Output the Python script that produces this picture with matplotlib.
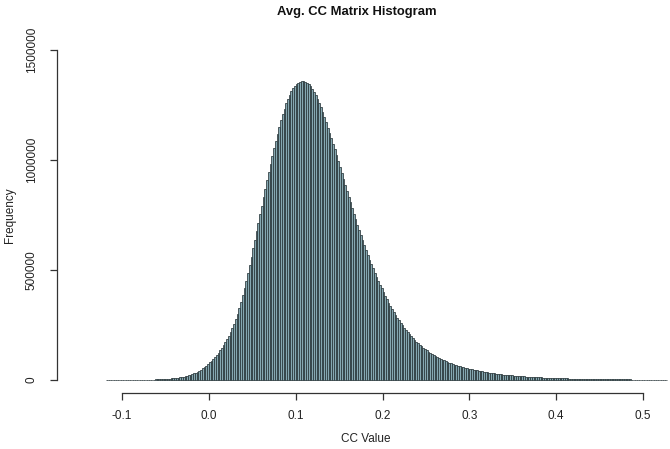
import numpy as np
import matplotlib
matplotlib.use("Agg")
import matplotlib.pyplot as plt

plt.rcParams['font.family'] = ['Liberation Sans', 'DejaVu Sans']

# ===== data: counts (in thousands) per bin of width 0.002, first bin starts at -0.118 =====
bin_start = -0.118
bin_width = 0.002
counts_k = [
    0.14, 0.15, 0.16, 0.17, 0.19, 0.21, 0.23, 0.26, 0.29, 0.31,
    0.34, 0.38, 0.42, 0.47, 0.52, 0.58, 0.65, 0.72, 0.80, 0.9,
    1.0, 1.1, 1.2, 1.4, 1.6, 1.8, 2.0, 2.2, 2.5, 2.8,
    3.2, 3.6, 4.0, 4.5, 5.0, 5.7, 6.4, 7.1, 8.0, 8.9,
    10.0, 11.2, 12.5, 14.0, 15.7, 17.5, 19.5, 21.8, 24.3, 27.2,
    30.5, 34.0, 38.0, 42.5, 47.5, 53, 59, 65.5, 72.5, 80,
    88, 96.5, 105.5, 115, 125, 136, 147.5, 160, 173, 187,
    202, 218, 236, 256, 278, 302, 328, 356, 386, 418,
    452, 488, 524, 561, 599, 637, 676, 715, 754, 793,
    832, 870, 908, 945, 982, 1018, 1053, 1087, 1119, 1150,
    1180, 1208, 1234, 1257, 1278, 1297, 1313, 1326, 1337, 1345,
    1351, 1355, 1357, 1357, 1355, 1351, 1344, 1335, 1324, 1311,
    1296, 1279, 1260, 1240, 1218, 1195, 1171, 1146, 1122, 1098,
    1075, 1049, 1022, 995, 968, 941, 914, 887, 860, 834,
    808, 782, 756, 731, 706, 682, 658, 635, 612, 590,
    568, 547, 527, 507, 488, 469, 451, 433, 416, 399,
    383, 367, 352, 337, 323, 309, 296, 283, 271, 259,
    248, 237, 227, 217, 208, 199, 190, 182, 174, 167,
    160, 153, 147, 141, 135, 129, 124, 119, 114, 109,
    105, 101, 97, 93, 89, 86, 82, 79, 76, 73,
    70, 67.5, 65, 62.5, 60, 58, 56, 54, 52, 50,
    48, 46.5, 45, 43.5, 42, 40.5, 39, 37.5, 36, 34.8,
    33.6, 32.4, 31.2, 30, 29, 28, 27, 26, 25, 24.1,
    23.3, 22.5, 21.7, 20.9, 20.2, 19.5, 18.8, 18.1, 17.5, 16.9,
    16.3, 15.7, 15.1, 14.6, 14.1, 13.6, 13.1, 12.7, 12.3, 11.9,
    11.5, 11.1, 10.7, 10.3, 10.0, 9.7, 9.4, 9.1, 8.8, 8.5,
    8.2, 7.9, 7.7, 7.4, 7.2, 7.0, 6.8, 6.6, 6.4, 6.2,
    6.0, 5.8, 5.6, 5.4, 5.2, 5.0, 4.9, 4.7, 4.6, 4.4,
    4.3, 4.2, 4.0, 3.9, 3.8, 3.7, 3.6, 3.5, 3.4, 3.3,
    3.2, 3.1, 3.0, 2.9, 2.8, 2.7, 2.6, 2.6, 2.5, 2.4,
    2.3, 2.3, 2.2, 2.1, 2.1, 2.0, 1.9, 1.9, 1.8, 1.8,
    1.7, 1.7, 1.6, 1.6, 1.5, 1.5, 1.4, 1.4, 1.3, 1.3,
    1.2, 1.2, 1.1,
]
x_ticks = [-0.1, 0.0, 0.1, 0.2, 0.3, 0.4, 0.5]
y_ticks = [0, 500000, 1000000, 1500000]

counts = np.array(counts_k) * 1000
lefts = bin_start + bin_width * np.arange(len(counts))

W, H = 670, 449
fig = plt.figure(figsize=(W / 100, H / 100), dpi=100)
# axes box in pixels: left 57, right 670, bottom 393, top 37
ax = fig.add_axes([57 / W, 1 - 393 / H, (670 - 57) / W, (393 - 37) / H])

ax.bar(lefts, counts, width=bin_width, align='edge',
       color='#86a8b1', edgecolor='#2a373b', linewidth=0.55)

# pixel mapping: -0.1 -> 122px, 0.5 -> 643px; 0 -> y380, 1.5M -> y50
px_per_unit = (643 - 122) / 0.6
ax.set_xlim(-0.1 - (122 - 57) / px_per_unit, -0.1 + (670 - 122) / px_per_unit)
cnt_per_px = 1500000 / (380 - 50)
ax.set_ylim(-(393 - 380) * cnt_per_px, (380 - 37) * cnt_per_px)

for s in ['top', 'right']:
    ax.spines[s].set_visible(False)
ax.spines['left'].set_bounds(0, 1500000)
ax.spines['bottom'].set_bounds(-0.1, 0.5)
for s in ['left', 'bottom']:
    ax.spines[s].set_color('#333333')
    ax.spines[s].set_linewidth(0.9)

ax.set_xticks(x_ticks)
ax.set_xticklabels([f'{v:.1f}' for v in x_ticks])
ax.set_yticks(y_ticks)
ax.set_yticklabels([str(v) for v in y_ticks], rotation=90, va='center')
ax.tick_params(axis='both', direction='out', length=5, width=0.9,
               color='#333333', labelcolor='#222222', labelsize=8.5)
ax.tick_params(axis='x', pad=7)
ax.tick_params(axis='y', pad=9)

fig.text(357 / W, 1 - 12 / H, 'Avg. CC Matrix Histogram', ha='center', va='center',
         fontsize=9.4, fontweight='bold', color='#111111')
fig.text(366 / W, 1 - 439 / H, 'CC Value', ha='center', va='center',
         fontsize=8.5, color='#222222')
fig.text(10 / W, 1 - 215 / H, 'Frequency', ha='center', va='center', rotation=90,
         fontsize=8.5, color='#222222')

fig.savefig('out.png', dpi=100)
plt.close(fig)
